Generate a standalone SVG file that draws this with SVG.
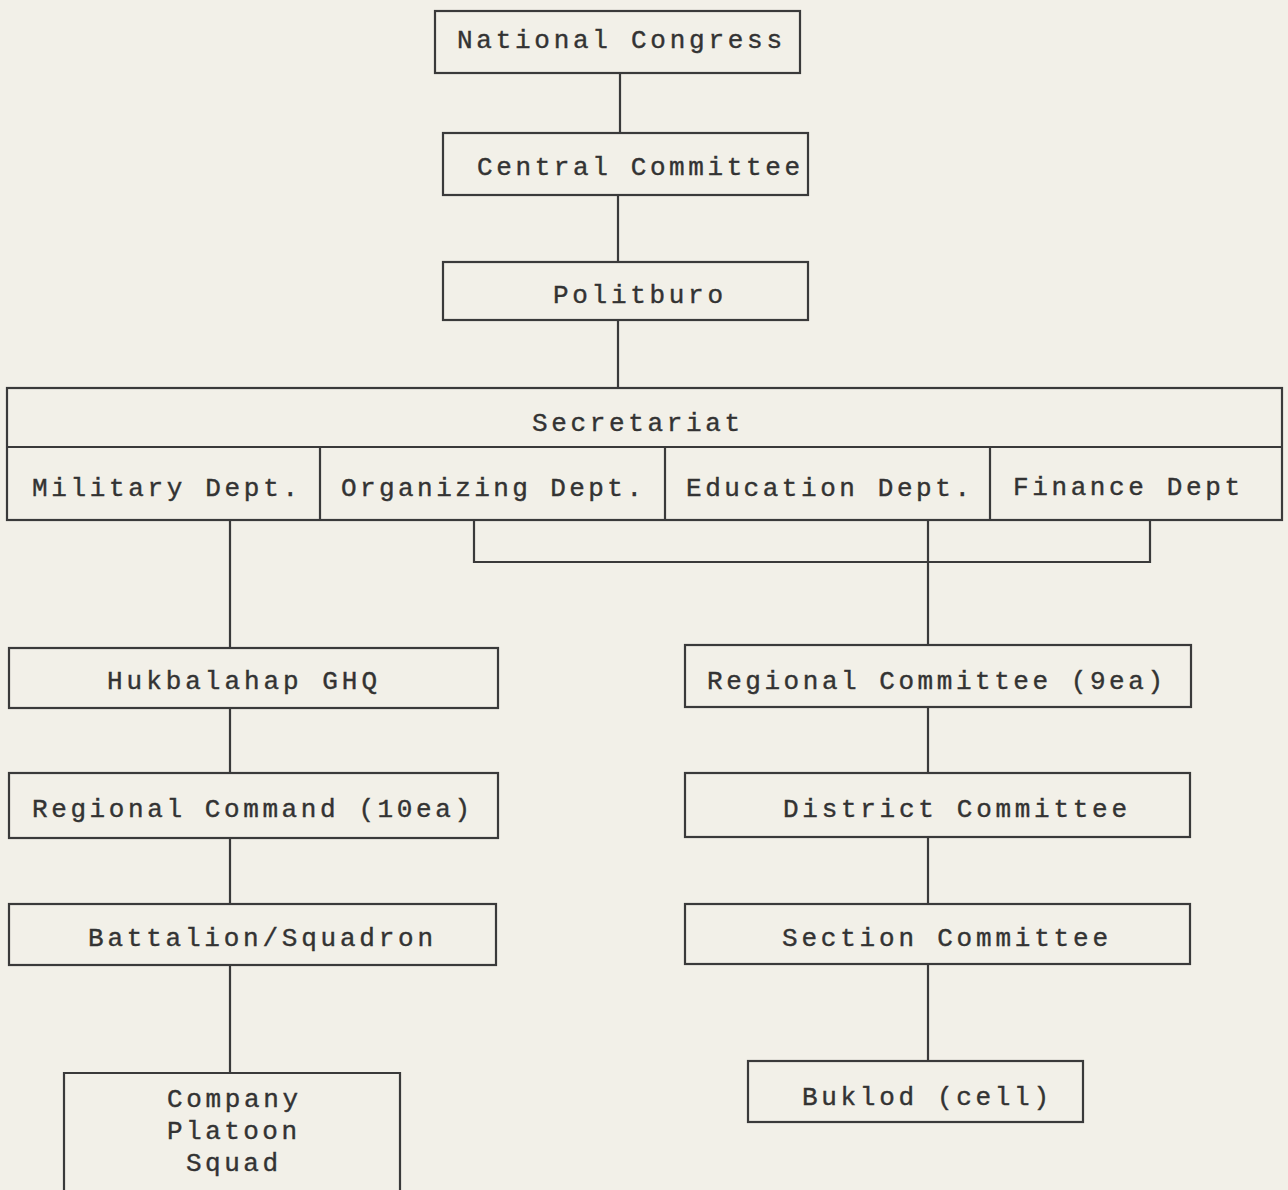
<svg xmlns="http://www.w3.org/2000/svg" width="1288" height="1190" viewBox="0 0 1288 1190">
<style>
.bg{fill:#f2f0e8}
.box{fill:none;stroke:#3a3a3a;stroke-width:2.2}
.ln{fill:none;stroke:#3a3a3a;stroke-width:2.2}
text{font-family:"Liberation Mono","DejaVu Sans Mono",monospace;font-size:26px;fill:#333;stroke:#333;stroke-width:0.4}
</style>
<rect class="bg" x="0" y="0" width="1288" height="1190"/>
<g id="connectors">
<line class="ln" x1="620" y1="73" x2="620" y2="133"/>
<line class="ln" x1="618" y1="195" x2="618" y2="262"/>
<line class="ln" x1="618" y1="320" x2="618" y2="388"/>
<line class="ln" x1="230" y1="520" x2="230" y2="648"/>
<polyline class="ln" points="474,520 474,562 1150,562 1150,520"/>
<line class="ln" x1="928" y1="520" x2="928" y2="645"/>
<line class="ln" x1="230" y1="708" x2="230" y2="773"/>
<line class="ln" x1="230" y1="838" x2="230" y2="904"/>
<line class="ln" x1="230" y1="965" x2="230" y2="1073"/>
<line class="ln" x1="928" y1="707" x2="928" y2="773"/>
<line class="ln" x1="928" y1="837" x2="928" y2="904"/>
<line class="ln" x1="928" y1="964" x2="928" y2="1061"/>
</g>
<g id="national-congress">
<rect class="box" x="435" y="11" width="365" height="62"/>
<text x="457" y="48" textLength="325" lengthAdjust="spacing">National Congress</text>
</g>
<g id="central-committee">
<rect class="box" x="443" y="133" width="365" height="62"/>
<text x="477" y="175" textLength="323" lengthAdjust="spacing">Central Committee</text>
</g>
<g id="politburo">
<rect class="box" x="443" y="262" width="365" height="58"/>
<text x="553" y="303" textLength="170" lengthAdjust="spacing">Politburo</text>
</g>
<g id="secretariat">
<rect class="box" x="7" y="388" width="1275" height="132"/>
<line class="ln" x1="7" y1="447" x2="1282" y2="447"/>
<text x="532" y="431" textLength="208" lengthAdjust="spacing">Secretariat</text>
</g>
<g id="military-dept">
<text x="32" y="496" textLength="266" lengthAdjust="spacing">Military Dept.</text>
</g>
<g id="organizing-dept">
<line class="ln" x1="320" y1="447" x2="320" y2="520"/>
<text x="341" y="496" textLength="301" lengthAdjust="spacing">Organizing Dept.</text>
</g>
<g id="education-dept">
<line class="ln" x1="665" y1="447" x2="665" y2="520"/>
<text x="686" y="496" textLength="284" lengthAdjust="spacing">Education Dept.</text>
</g>
<g id="finance-dept">
<line class="ln" x1="990" y1="447" x2="990" y2="520"/>
<text x="1013" y="495" textLength="227" lengthAdjust="spacing">Finance Dept</text>
</g>
<g id="hukbalahap-ghq">
<rect class="box" x="9" y="648" width="489" height="60"/>
<text x="107" y="689" textLength="270" lengthAdjust="spacing">Hukbalahap GHQ</text>
</g>
<g id="regional-command">
<rect class="box" x="9" y="773" width="489" height="65"/>
<text x="32" y="817" textLength="438" lengthAdjust="spacing">Regional Command (10ea)</text>
</g>
<g id="battalion-squadron">
<rect class="box" x="9" y="904" width="487" height="61"/>
<text x="88" y="946" textLength="345" lengthAdjust="spacing">Battalion/Squadron</text>
</g>
<g id="company-platoon-squad">
<polyline class="box" points="64,1192 64,1073 400,1073 400,1192"/>
<text x="167" y="1107" textLength="131" lengthAdjust="spacing">Company</text>
<text x="167" y="1139" textLength="130" lengthAdjust="spacing">Platoon</text>
<text x="186" y="1171" textLength="92" lengthAdjust="spacing">Squad</text>
</g>
<g id="regional-committee">
<rect class="box" x="685" y="645" width="506" height="62"/>
<text x="707" y="689" textLength="456" lengthAdjust="spacing">Regional Committee (9ea)</text>
</g>
<g id="district-committee">
<rect class="box" x="685" y="773" width="505" height="64"/>
<text x="783" y="817" textLength="344" lengthAdjust="spacing">District Committee</text>
</g>
<g id="section-committee">
<rect class="box" x="685" y="904" width="505" height="60"/>
<text x="782" y="946" textLength="326" lengthAdjust="spacing">Section Committee</text>
</g>
<g id="buklod">
<rect class="box" x="748" y="1061" width="335" height="61"/>
<text x="802" y="1105" textLength="247" lengthAdjust="spacing">Buklod (cell)</text>
</g>
</svg>
